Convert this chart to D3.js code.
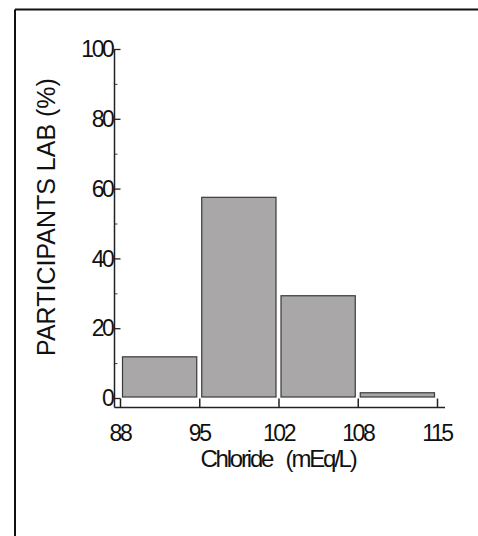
<!DOCTYPE html>
<html>
<head>
<meta charset="utf-8">
<script src="https://cdn.jsdelivr.net/npm/d3@7"></script>
<style>
  html, body { margin: 0; padding: 0; background: #fff; }
  svg { display: block; }
  text { font-family: "Liberation Sans", Arial, sans-serif; fill: #111; }
</style>
</head>
<body>
<svg id="chart" width="478" height="536"></svg>
<script>
// Data
const binEdges = ["88", "95", "102", "108", "115"];
const binValues = [11.8, 57.5, 29.3, 1.5];
const yTicks = [0, 20, 40, 60, 80, 100];
const yMinorTicks = [10, 30, 50, 70, 90];
const xTitle = "Chloride   (mEq/L)";
const yTitle = "PARTICIPANTS LAB (%)";

const svg = d3.select("#chart");

// Outer frame (top and left edges visible)
svg.append("line").attr("x1", 15).attr("x2", 478).attr("y1", 9.5).attr("y2", 9.5)
  .attr("stroke", "#111").attr("stroke-width", 2);
svg.append("line").attr("x1", 15).attr("x2", 15).attr("y1", 9.5).attr("y2", 536)
  .attr("stroke", "#111").attr("stroke-width", 2);

const x = d3.scalePoint().domain(binEdges).range([120, 437]);
const y = d3.scaleLinear().domain([0, 100]).range([398, 49]);
const axisX0 = 114.5, axisY0 = 407.5;

// Bars
const bins = binValues.map((v, i) => ({ x0: binEdges[i], x1: binEdges[i + 1], v }));
svg.append("g").selectAll("rect").data(bins).join("rect")
  .attr("x", d => x(d.x0) + 2.5)
  .attr("width", d => x(d.x1) - x(d.x0) - 5)
  .attr("y", d => y(d.v))
  .attr("height", d => y(0) - y(d.v) - 1)
  .attr("fill", "#a9a7a8")
  .attr("stroke", "#3a3a3a")
  .attr("stroke-width", 1.2);

// Y axis
const yAxis = d3.axisRight(y).tickValues(yTicks).tickSize(6).tickFormat("");
const gy = svg.append("g").attr("transform", `translate(${axisX0},0)`).call(yAxis);
gy.select(".domain").remove();
gy.selectAll(".tick line").attr("stroke", "#222").attr("stroke-width", 1.3);
const yMinor = d3.axisRight(y).tickValues(yMinorTicks).tickSize(3).tickFormat("");
const gym = svg.append("g").attr("transform", `translate(${axisX0},0)`).call(yMinor);
gym.select(".domain").remove();
gym.selectAll(".tick line").attr("stroke", "#444").attr("stroke-width", 1);
svg.append("line").attr("x1", axisX0).attr("x2", axisX0).attr("y1", y(100)).attr("y2", axisY0)
  .attr("stroke", "#222").attr("stroke-width", 1.5);
svg.append("g").selectAll("text").data(yTicks).join("text")
  .attr("x", axisX0 - 2).attr("y", d => y(d)).attr("dy", "0.36em")
  .attr("text-anchor", "end").attr("font-size", 23).attr("letter-spacing", -2.4)
  .text(d => d);

// X axis
const xAxis = d3.axisTop(x).tickSize(9).tickFormat("");
const gx = svg.append("g").attr("transform", `translate(0,${axisY0})`).call(xAxis);
gx.select(".domain").remove();
gx.selectAll(".tick line").attr("stroke", "#222").attr("stroke-width", 1.5);
svg.append("line").attr("x1", axisX0).attr("x2", 445).attr("y1", axisY0).attr("y2", axisY0)
  .attr("stroke", "#222").attr("stroke-width", 1.5);
svg.append("g").selectAll("text").data(binEdges).join("text")
  .attr("x", d => x(d)).attr("y", 441)
  .attr("text-anchor", "middle").attr("font-size", 23).attr("letter-spacing", -2.4)
  .text(d => d);

// Titles
svg.append("text").attr("x", 278).attr("y", 467)
  .attr("text-anchor", "middle").attr("font-size", 24).attr("letter-spacing", -2.2)
  .style("white-space", "pre").text(xTitle);
svg.append("text").attr("transform", "translate(55,217) rotate(-90)")
  .attr("text-anchor", "middle").attr("font-size", 25)
  .text(yTitle);
</script>
</body>
</html>
